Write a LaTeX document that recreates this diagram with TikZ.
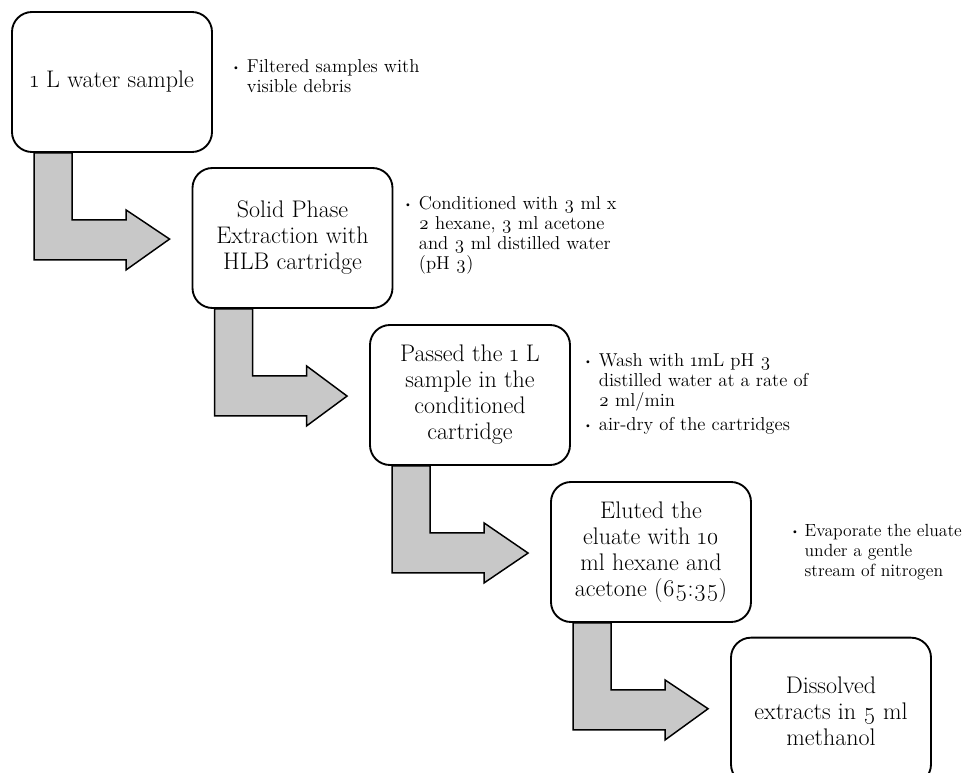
\documentclass[tikz,border=0pt]{standalone}
\usepackage{fontspec}
\setmainfont{Latin Modern Roman}[Numbers=OldStyle]
\usetikzlibrary{calc}

\definecolor{arrowgray}{RGB}{200,200,200}

\tikzset{every picture/.style={line width=0.75pt}}
\tikzset{
	stepbox/.style={draw=black, line width=1.4pt, fill=white, rounded corners=15pt,
		minimum width=150pt, minimum height=105pt, inner sep=0.75pt, align=center,
		font=\fontsize{18}{19.5}\selectfont},
	notetext/.style={anchor=north west, inner sep=0.75pt, align=left,
		font=\fontsize{14}{15}\selectfont},
	turnarrow/.style={draw=black, line width=1.1pt, fill=arrowgray, line join=miter}
}

% small raised bullet of the side notes
\newcommand{\notedot}{\raisebox{1.3pt}{\fontsize{7.5}{7.5}\selectfont\textbullet}}

% bent block arrow from the foot of one box to the side of the next
\newcommand{\bentarrow}[2]{%
	\draw [turnarrow] ($(#1.south west)+(23,0)$) -- ($(#1.south west)+(61,0)$)
		-- ($(#1.south west)+(61,67)$) -- ($(#1.south west)+(115,67)$)
		-- ($(#1.south west)+(115,57)$) -- ($(#2.north west)+(-22,72)$)
		-- ($(#1.south west)+(115,117)$) -- ($(#1.south west)+(115,107)$)
		-- ($(#1.south west)+(23,107)$) -- cycle;}

\begin{document}
\begin{tikzpicture}[x=0.75pt,y=0.75pt,yscale=-1,xscale=1]
	\useasboundingbox (0,0) rectangle (970,773);
	
	% Steps
	\node [stepbox] (water) at (112,82) {1 L water sample};
	\node [stepbox] (spe) at (292.5,238) {Solid Phase\\Extraction with\\HLB cartridge};
	\node [stepbox] (pass) at (470,395) {Passed the 1 L\\sample in the\\conditioned\\cartridge};
	\node [stepbox] (elute) at (651,552) {Eluted the\\eluate with 10\\ml hexane and\\acetone (65:35)};
	\node [stepbox, minimum height=110pt] (dissolve) at (831,711) {Dissolved\\extracts in 5 ml\\methanol};
	
	% Arrows
	\bentarrow{water}{spe}
	\bentarrow{spe}{pass}
	\bentarrow{pass}{elute}
	\bentarrow{elute}{dissolve}
	
	% Side notes
	\node [notetext] (filter) at (230,57) {\begin{tabular}{@{}l@{\hspace{5pt}}l@{}}
		\notedot & Filtered samples with\\ & visible debris\end{tabular}};
	\node [notetext] (cond) at (402,194) {\begin{tabular}{@{}l@{\hspace{5pt}}l@{}}
		\notedot & Conditioned with 3 ml x\\ & 2 hexane, 3 ml acetone\\
		& and 3 ml distilled water\\ & (pH 3)\end{tabular}};
	\node [notetext] (wash) at (582,351) {\begin{tabular}{@{}l@{\hspace{5pt}}l@{}}
		\notedot & Wash with 1mL pH 3\\ & distilled water at a rate of\\
		& 2 ml/min\\[3pt] \notedot & air-dry of the cartridges\end{tabular}};
	\node [notetext, font=\fontsize{13.2}{15}\selectfont] (evap) at (789,521) {\begin{tabular}{@{}l@{\hspace{4pt}}l@{}}
		\notedot & Evaporate the eluate\\ & under a gentle\\
		& stream of nitrogen\end{tabular}};
	
\end{tikzpicture}
\end{document}
